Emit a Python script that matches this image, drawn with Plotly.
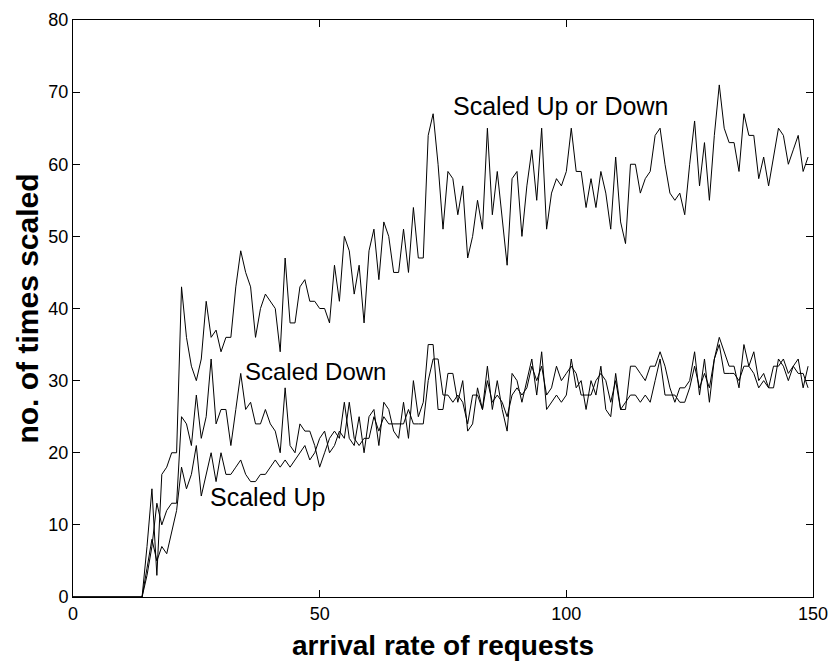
import plotly.graph_objects as go

# arrival rate of requests: 0 .. 149
arrival_rate = list(range(150))

scaled_up_or_down = [
    0, 0, 0, 0, 0, 0, 0, 0, 0, 0, 0, 0, 0, 0, 0,          # 0-14
    7, 15, 3, 17, 18, 20, 20,                               # 15-21
    43, 36, 32, 30, 33, 41, 36, 37, 34, 36, 36, 43, 48,     # 22-34
    45, 43, 36, 40, 42, 41, 40, 34, 47, 38, 38, 43, 44, 41, 41, 40, 40, 38, 46, 41, 50, 48,  # 35-56
    42, 46, 38, 48, 51, 44, 52, 50, 45, 45, 51, 45, 54, 47, 47, 64, 67, 60, 51, 59, 58, 53, 57, 47,  # 57-80
    50, 55, 51, 65, 53, 59, 52, 46, 58, 59, 50, 57, 62, 55, 65, 51, 56, 58, 57, 59, 65, 59,  # 81-102
    59, 54, 58, 54, 59, 56, 51, 61, 52, 49, 60, 60, 56, 58, 59, 64, 65, 60, 56, 55, 56, 53,  # 103-124
    60, 66, 57, 63, 55, 64, 71, 65, 63, 63, 59, 67, 64, 64, 58, 61, 57, 61, 65, 64, 60, 62, 64, 59, 61,  # 125-149
]

scaled_down = [
    0, 0, 0, 0, 0, 0, 0, 0, 0, 0, 0, 0, 0, 0, 0,
    3, 7, 13, 10, 12, 13, 13,
    25, 24, 21, 28, 22, 25, 33, 24, 26, 26, 21, 26, 31,
    26, 27, 24, 24, 26, 24, 23, 20, 29, 21, 20, 24, 23, 23, 21, 18, 20, 22, 23, 22, 27, 22,
    21, 25, 20, 25, 26, 21, 27, 26, 23, 22, 27, 22, 30, 25, 27, 35, 35, 26, 26, 31, 31, 27, 30, 23,
    24, 29, 26, 32, 26, 30, 26, 23, 31, 30, 27, 30, 33, 28, 34, 26, 27, 28, 27, 28, 33, 29,
    30, 26, 30, 28, 32, 26, 25, 31, 26, 26, 32, 32, 31, 30, 32, 32, 34, 32, 29, 27, 29, 29,
    30, 34, 28, 33, 27, 33, 36, 34, 32, 32, 29, 35, 32, 34, 30, 31, 29, 32, 32, 33, 31, 32, 33, 29, 32,
]

scaled_up = [
    0, 0, 0, 0, 0, 0, 0, 0, 0, 0, 0, 0, 0, 0, 0,
    4, 8, 5, 7, 6, 9, 12,
    18, 15, 17, 21, 14, 17, 20, 16, 20, 17, 17, 18, 19,
    17, 16, 16, 17, 17, 18, 19, 18, 19, 18, 19, 20, 21, 19, 20, 22, 23, 20, 21, 23, 22, 27,
    22, 21, 22, 22, 25, 23, 25, 24, 24, 24, 24, 26, 24, 24, 24, 30, 33, 33, 28, 28, 27, 28, 27, 24,
    28, 28, 26, 30, 27, 28, 27, 25, 28, 29, 28, 29, 32, 30, 32, 28, 29, 32, 30, 31, 32, 31,
    28, 28, 28, 30, 31, 30, 27, 30, 26, 27, 28, 28, 27, 28, 27, 30, 33, 28, 28, 28, 27, 27,
    29, 32, 29, 31, 29, 33, 35, 31, 31, 31, 30, 32, 32, 31, 29, 30, 29, 29, 33, 32, 30, 32, 31, 31, 29,
]

x_ticks = [0, 50, 100, 150]
y_ticks = [0, 10, 20, 30, 40, 50, 60, 70, 80]

series_labels = ["Scaled Up or Down", "Scaled Down", "Scaled Up"]
label_x = [98.8, 49.2, 39.5]
label_y = [68.1, 31.2, 13.9]

FONT = "Liberation Sans, Arial, Helvetica, sans-serif"

fig = go.Figure()
for ys in (scaled_up_or_down, scaled_down, scaled_up):
    fig.add_trace(go.Scatter(
        x=arrival_rate[:len(ys)], y=ys, mode="lines",
        line=dict(color="black", width=1), showlegend=False,
    ))

for txt, lx, ly, sz in zip(series_labels, label_x, label_y, [25, 24, 25]):
    fig.add_annotation(x=lx, y=ly, text=txt, showarrow=False,
                       font=dict(family=FONT, size=sz, color="black"),
                       xanchor="center", yanchor="middle")

axis_common = dict(
    showline=True, linecolor="black", linewidth=1, mirror="ticks",
    ticks="inside", ticklen=7, tickcolor="black", tickwidth=1,
    showgrid=False, zeroline=False,
    tickfont=dict(family=FONT, size=18, color="black"),
)

fig.update_xaxes(range=[0, 150], tickvals=x_ticks, **axis_common,
                 title=dict(text="<b>arrival rate of requests</b>",
                            font=dict(family=FONT, size=28, color="black"), standoff=12))
fig.update_yaxes(range=[0, 80], tickvals=y_ticks, **axis_common,
                 title=dict(text="<b>no. of times scaled</b>",
                            font=dict(family=FONT, size=30, color="black"), standoff=0))

fig.update_layout(
    width=838, height=666,
    margin=dict(l=73, r=21, t=10, b=69),
    plot_bgcolor="white", paper_bgcolor="white",
    font=dict(family=FONT, color="black"),
)

fig.write_html("out.html")
